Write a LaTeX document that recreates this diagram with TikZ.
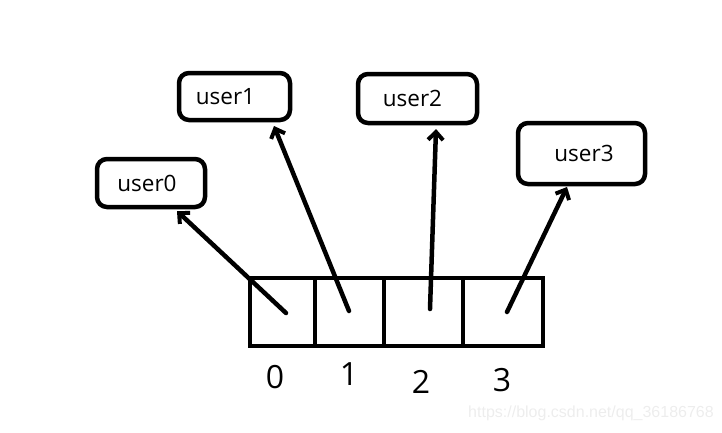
\documentclass[tikz,border=0pt]{standalone}
\usepackage{fontspec}
\setmainfont{Open Sans}
\newfontfamily\wmfont{Liberation Sans}
\usetikzlibrary{arrows.meta}
\begin{document}
\begin{tikzpicture}[x=1pt,y=-1pt,
  userbox/.style={draw,line width=4.5pt,rounded corners=10pt,inner sep=0pt,
    font=\fontsize{22.5}{26}\selectfont},
  cellbox/.style={draw,line width=4.5pt,inner sep=0pt,minimum height=68pt},
  idx/.style={font=\fontsize{32}{36}\selectfont,inner sep=0pt},
  arr/.style={line width=4.5pt,line cap=round,
    -{Straight Barb[length=8pt,width=15pt,line width=4pt]}}
]
\useasboundingbox (0,0) rectangle (722,432);
% array cells
\node[cellbox,minimum width=65pt] (c0) at (282.5,312) {};
\node[cellbox,minimum width=69pt] (c1) at (349.5,312) {};
\node[cellbox,minimum width=79pt] (c2) at (423.5,312) {};
\node[cellbox,minimum width=80pt] (c3) at (503,312) {};
% indices
\node[idx] (i0) at (275,377) {0};
\node[idx] (i1) at (349,374) {1};
\node[idx] (i2) at (421,382) {2};
\node[idx] (i3) at (502,380) {3};
% user boxes
\node[userbox,minimum width=108pt,minimum height=48pt] (u0) at (151,183) {\hspace*{-8pt}user0};
\node[userbox,minimum width=111pt,minimum height=47pt] (u1) at (234.5,96.5) {\hspace*{-18pt}user1};
\node[userbox,minimum width=119pt,minimum height=49pt] (u2) at (417.5,98.5) {\hspace*{-10pt}user2};
\node[userbox,minimum width=127pt,minimum height=61pt] (u3) at (581.5,153.5) {\hspace*{5pt}user3};
% arrow anchors
\coordinate (p0) at (286,313);
\coordinate (p1) at (349,311);
\coordinate (p2) at (430,309);
\coordinate (p3) at (507,312);
\coordinate (t0) at (177,211);
\coordinate (t1) at (274,126);
\coordinate (t2) at (436,129);
\coordinate (t3) at (567,187);
\draw[arr] (p0) -- (t0);
\draw[arr] (p1) -- (t1);
\draw[arr] (p2) -- (t2);
\draw[arr] (p3) -- (t3);
% watermark
\node[font=\wmfont\fontsize{16}{18}\selectfont,text=black!7,inner sep=0pt] (wm) at (591,413) {https://blog.csdn.net/qq\_36186768};
\end{tikzpicture}
\end{document}
